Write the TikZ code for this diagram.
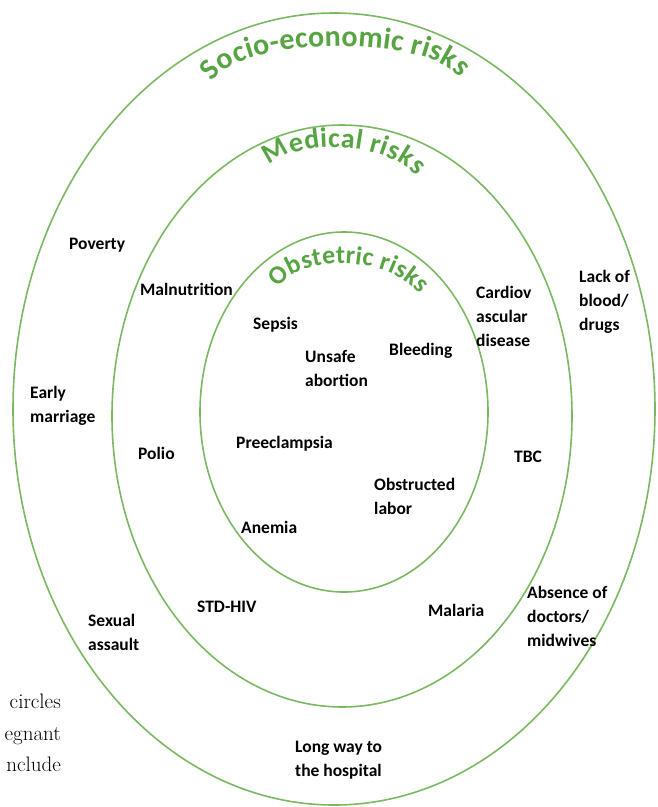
\documentclass[tikz,border=0pt]{standalone}
\usepackage{fontspec}
\newfontfamily\carlito{Carlito}
\usetikzlibrary{decorations.text}
\definecolor{ringgreen}{RGB}{122,184,98}
\definecolor{titlegreen}{RGB}{86,164,66}

\begin{document}
\begin{tikzpicture}[
    x=1pt, y=-1pt,
    ring/.style={draw=ringgreen, line width=1.6pt},
    risk/.style={font=\carlito\bfseries\fontsize{17.5}{24}\selectfont, align=left, anchor=west, inner sep=0pt},
    cut/.style={font=\fontsize{21}{31}\selectfont, anchor=base east, inner sep=0pt},
    ringtitle/.style 2 args={decorate, decoration={text along path, text align=fit to path,
        text color=titlegreen, text={|\carlito\bfseries\fontsize{#1}{#1}\selectfont|#2}}}
]
    \useasboundingbox (0,0) rectangle (658,807);

    % Rings: socio-economic, medical, obstetric
    \draw[ring] (334,409) ellipse [x radius=321, y radius=396];
    \draw[ring] (342,416) ellipse [x radius=230, y radius=291];
    \draw[ring] (344,412) ellipse [x radius=144, y radius=180];

    % Ring titles
    \path[ringtitle={30}{Socio-economic risks}] (212,82) .. controls (240,36) and (428,34) .. (460,78);
    \path[ringtitle={28}{Medical risks}] (270,166) .. controls (293,140) and (383,139) .. (416,176);
    \path[ringtitle={26}{Obstetric risks}] (278,288) .. controls (300,255) and (386,254) .. (420,294);

    % Socio-economic risks
    \node[risk] (poverty) at (69,245) {Poverty};
    \node[risk] (lack) at (579,302) {Lack of\\blood/\\drugs};
    \node[risk] (early) at (30,406) {Early\\marriage};
    \node[risk] (assault) at (88,632) {Sexual\\assault};
    \node[risk] (absence) at (527,616) {Absence of\\doctors/\\midwives};
    \node[risk] (longway) at (295,760) {Long way to\\the hospital};

    % Medical risks
    \node[risk] (malnutrition) at (140,289) {Malnutrition};
    \node[risk] (cardio) at (476,316) {Cardiov\\ascular\\disease};
    \node[risk] (polio) at (138,453) {Polio};
    \node[risk] (tbc) at (514,457) {TBC};
    \node[risk] (stdhiv) at (197,607) {STD-HIV};
    \node[risk] (malaria) at (428,610) {Malaria};

    % Obstetric risks
    \node[risk] (sepsis) at (253,325) {Sepsis};
    \node[risk] (unsafe) at (305,368) {Unsafe\\abortion};
    \node[risk] (bleeding) at (389,351) {Bleeding};
    \node[risk] (preeclampsia) at (236,444) {Preeclampsia};
    \node[risk] (obstructed) at (374,496) {Obstructed\\labor};
    \node[risk] (anemia) at (241,527) {Anemia};

    % Cut-off body text at the left edge
    \node[cut] (cut1) at (61,708) {circles};
    \node[cut] (cut2) at (61,740) {egnant};
    \node[cut] (cut3) at (61,771) {nclude};
\end{tikzpicture}
\end{document}
